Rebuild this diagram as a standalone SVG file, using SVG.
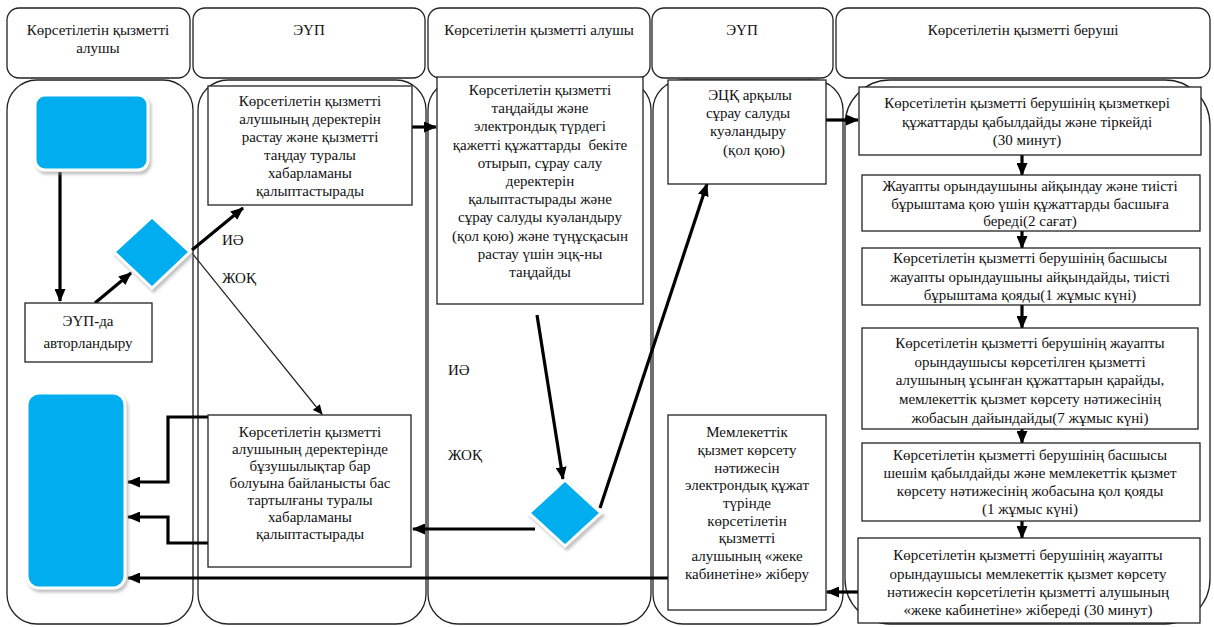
<svg xmlns="http://www.w3.org/2000/svg" width="1214" height="627" viewBox="0 0 1214 627">
<style>
.lane{fill:none;stroke:#222;stroke-width:1.3}
.box{fill:#fff;stroke:#222;stroke-width:1.3}
.blue{fill:#00AEEF;stroke:#fff;stroke-width:3}
.t{font-family:"Liberation Serif","Times New Roman",serif;font-size:15px;fill:#111;text-anchor:middle}
.tl{font-family:"Liberation Serif","Times New Roman",serif;font-size:15px;fill:#111}
.c{fill:none;stroke:#000;stroke-width:3.2}
.thin{fill:none;stroke:#222;stroke-width:1.2}
</style>
<defs>
<marker id="ah" markerUnits="userSpaceOnUse" markerWidth="13" markerHeight="11" refX="12" refY="5.5" orient="auto">
<path d="M0,0 L13,5.5 L0,11 z" fill="#000"/>
</marker>
<marker id="ahs" markerUnits="userSpaceOnUse" markerWidth="10" markerHeight="9" refX="9" refY="4.5" orient="auto">
<path d="M0,0 L10,4.5 L0,9 z" fill="#000"/>
</marker>
<filter id="sh" x="-20%" y="-20%" width="140%" height="140%">
<feDropShadow dx="2" dy="3" stdDeviation="1.5" flood-color="#999" flood-opacity="0.6"/>
</filter>
</defs>

<g id="headers">
<rect class="lane" x="7" y="8" width="183" height="70" rx="12"/>
<rect class="lane" x="193" y="8" width="232" height="70" rx="12"/>
<rect class="lane" x="428" y="8" width="222" height="70" rx="12"/>
<rect class="lane" x="652" y="8" width="181" height="70" rx="12"/>
<rect class="lane" x="836" y="8" width="374" height="70" rx="12"/>
<text class="t" x="98" y="35">Көрсетілетін қызметті</text>
<text class="t" x="98" y="53">алушы</text>
<text class="t" x="309" y="35">ЭҮП</text>
<text class="t" x="539" y="35">Көрсетілетін қызметті алушы</text>
<text class="t" x="742" y="35">ЭҮП</text>
<text class="t" x="1023" y="35">Көрсетілетін қызметті беруші</text>
</g>

<g id="lanes">
<rect class="lane" x="7" y="80" width="186" height="544" rx="30"/>
<rect class="lane" x="198" y="80" width="228" height="544" rx="30"/>
<rect class="lane" x="428" y="80" width="223" height="544" rx="30"/>
<rect class="lane" x="653" y="80" width="190" height="544" rx="30"/>
<rect class="lane" x="845" y="80" width="365" height="544" rx="45"/>
</g>

<g id="connectors">
<path class="c" d="M60 172 V301" marker-end="url(#ah)"/>
<path class="c" d="M95 303 L131 273" marker-end="url(#ah)"/>
<path class="c" d="M192 250 L243 208" marker-end="url(#ah)"/>
<path class="thin" d="M192 253 L322 414" marker-end="url(#ahs)"/>
<path class="c" d="M412 127 H436" marker-end="url(#ah)"/>
<path class="c" d="M537 315 L563 479" marker-end="url(#ah)"/>
<path class="c" d="M600 508 L707 184" marker-end="url(#ah)"/>
<path class="c" d="M535 529 H413" marker-end="url(#ah)"/>
<path class="c" d="M212 417 H168 V482 H128" marker-end="url(#ah)"/>
<path class="c" d="M208 543 H168 V517 H128" marker-end="url(#ah)"/>
<path class="c" d="M668 578 H128" marker-end="url(#ah)"/>
<path class="c" d="M826 120 H858" marker-end="url(#ah)"/>
<path class="c" d="M858 592 H827" marker-end="url(#ah)"/>
<path class="c" d="M1022 155 V175" marker-end="url(#ah)"/>
<path class="c" d="M1022 231 V248" marker-end="url(#ah)"/>
<path class="c" d="M1022 305 V328" marker-end="url(#ah)"/>
<path class="c" d="M1022 429 V443" marker-end="url(#ah)"/>
<path class="c" d="M1022 521 V538" marker-end="url(#ah)"/>
<text class="tl" x="222" y="245">ИӘ</text>
<text class="tl" x="222" y="283">ЖОҚ</text>
<text class="tl" x="448" y="375">ИӘ</text>
<text class="tl" x="448" y="460">ЖОҚ</text>
</g>

<g id="start">
<rect class="blue" x="35" y="95" width="113" height="75" rx="10" filter="url(#sh)"/>
</g>

<g id="end">
<rect class="blue" x="27" y="393" width="98" height="195" rx="12" filter="url(#sh)"/>
</g>

<g id="auth">
<rect class="box" x="25" y="303" width="127" height="59"/>
<text class="t" x="88" y="326">ЭҮП-да</text>
<text class="t" x="88" y="348">авторландыру</text>
</g>

<g id="decision1">
<path class="blue" d="M152 217 L190 252 L152 288 L114 252 z" filter="url(#sh)"/>
</g>

<g id="decision2">
<path class="blue" d="M565 480 L601 513 L565 546 L529 513 z" filter="url(#sh)"/>
</g>

<g id="confirm">
<rect class="box" x="208" y="86" width="204" height="119"/>
<text class="t" x="310" y="106">Көрсетілетін қызметті</text>
<text class="t" x="310" y="124">алушының деректерін</text>
<text class="t" x="310" y="142">растау және қызметті</text>
<text class="t" x="310" y="160">таңдау туралы</text>
<text class="t" x="310" y="178">хабарламаны</text>
<text class="t" x="310" y="196">қалыптастырады</text>
</g>

<g id="refusal">
<rect class="box" x="208" y="415" width="203" height="152"/>
<text class="t" x="310" y="437">Көрсетілетін қызметті</text>
<text class="t" x="310" y="454">алушының деректерінде</text>
<text class="t" x="310" y="471">бұзушылықтар бар</text>
<text class="t" x="310" y="488">болуына байланысты бас</text>
<text class="t" x="310" y="505">тартылғаны туралы</text>
<text class="t" x="310" y="522">хабарламаны</text>
<text class="t" x="310" y="539">қалыптастырады</text>
</g>

<g id="select">
<rect class="box" x="437" y="77" width="206" height="227"/>
<text class="t" x="540" y="95">Көрсетілетін қызметті</text>
<text class="t" x="540" y="113">таңдайды және</text>
<text class="t" x="540" y="131">электрондық түрдегі</text>
<text class="t" x="540" y="150" style="white-space:pre">қажетті құжаттарды  бекіте</text>
<text class="t" x="540" y="168">отырып, сұрау салу</text>
<text class="t" x="540" y="186">деректерін</text>
<text class="t" x="540" y="204">қалыптастырады және</text>
<text class="t" x="540" y="222">сұрау салуды куәландыру</text>
<text class="t" x="540" y="241">(қол қою) және түңұсқасын</text>
<text class="t" x="540" y="259">растау үшін эцқ-ны</text>
<text class="t" x="540" y="277">таңдайды</text>
</g>

<g id="sign">
<rect class="box" x="668" y="80" width="158" height="104"/>
<text class="t" x="750" y="100">ЭЦҚ арқылы</text>
<text class="t" x="748" y="118">сұрау салуды</text>
<text class="t" x="748" y="136">куәландыру</text>
<text class="t" x="754" y="155">(қол қою)</text>
</g>

<g id="send">
<rect class="box" x="668" y="415" width="158" height="195"/>
<text class="t" x="747" y="437">Мемлекеттік</text>
<text class="t" x="747" y="455">қызмет көрсету</text>
<text class="t" x="747" y="473">нәтижесін</text>
<text class="t" x="747" y="490">электрондық құжат</text>
<text class="t" x="747" y="508">түрінде</text>
<text class="t" x="747" y="526">көрсетілетін</text>
<text class="t" x="747" y="543">қызметті</text>
<text class="t" x="747" y="561">алушының «жеке</text>
<text class="t" x="747" y="579">кабинетіне» жіберу</text>
</g>

<g id="stepA">
<rect class="box" x="859" y="87" width="342" height="68"/>
<text class="t" x="1027" y="108">Көрсетілетін қызметті берушінің қызметкері</text>
<text class="t" x="1027" y="127">құжаттарды қабылдайды және тіркейді</text>
<text class="t" x="1027" y="145">(30 минут)</text>
</g>

<g id="stepB">
<rect class="box" x="862" y="175" width="338" height="56"/>
<text class="t" x="1030" y="191">Жауапты орындаушыны айқындау және тиісті</text>
<text class="t" x="1030" y="209">бұрыштама қою үшін құжаттарды басшыға</text>
<text class="t" x="1030" y="226">береді(2 сағат)</text>
</g>

<g id="stepC">
<rect class="box" x="862" y="248" width="338" height="57"/>
<text class="t" x="1030" y="263">Көрсетілетін қызметті берушінің басшысы</text>
<text class="t" x="1030" y="282">жауапты орындаушыны айқындайды, тиісті</text>
<text class="t" x="1030" y="300">бұрыштама қояды(1 жұмыс күні)</text>
</g>

<g id="stepD">
<rect class="box" x="862" y="328" width="336" height="101"/>
<text class="t" x="1030" y="348">Көрсетілетін қызметті берушінің жауапты</text>
<text class="t" x="1030" y="367">орындаушысы көрсетілген қызметті</text>
<text class="t" x="1030" y="385">алушының ұсынған құжаттарын қарайды,</text>
<text class="t" x="1030" y="404">мемлекеттік қызмет көрсету нәтижесінің</text>
<text class="t" x="1030" y="423">жобасын дайындайды(7 жұмыс күні)</text>
</g>

<g id="stepE">
<rect class="box" x="862" y="443" width="338" height="78"/>
<text class="t" x="1030" y="460">Көрсетілетін қызметті берушінің басшысы</text>
<text class="t" x="1030" y="478">шешім қабылдайды және мемлекеттік қызмет</text>
<text class="t" x="1030" y="496">көрсету нәтижесінің жобасына қол қояды</text>
<text class="t" x="1030" y="514">(1 жұмыс күні)</text>
</g>

<g id="stepF">
<rect class="box" x="858" y="538" width="342" height="85"/>
<text class="t" x="1028" y="560">Көрсетілетін қызметті берушінің жауапты</text>
<text class="t" x="1028" y="579">орындаушысы мемлекеттік қызмет көрсету</text>
<text class="t" x="1028" y="597">нәтижесін көрсетілетін қызметті алушының</text>
<text class="t" x="1028" y="615">«жеке кабинетіне» жібереді (30 минут)</text>
</g>
</svg>
